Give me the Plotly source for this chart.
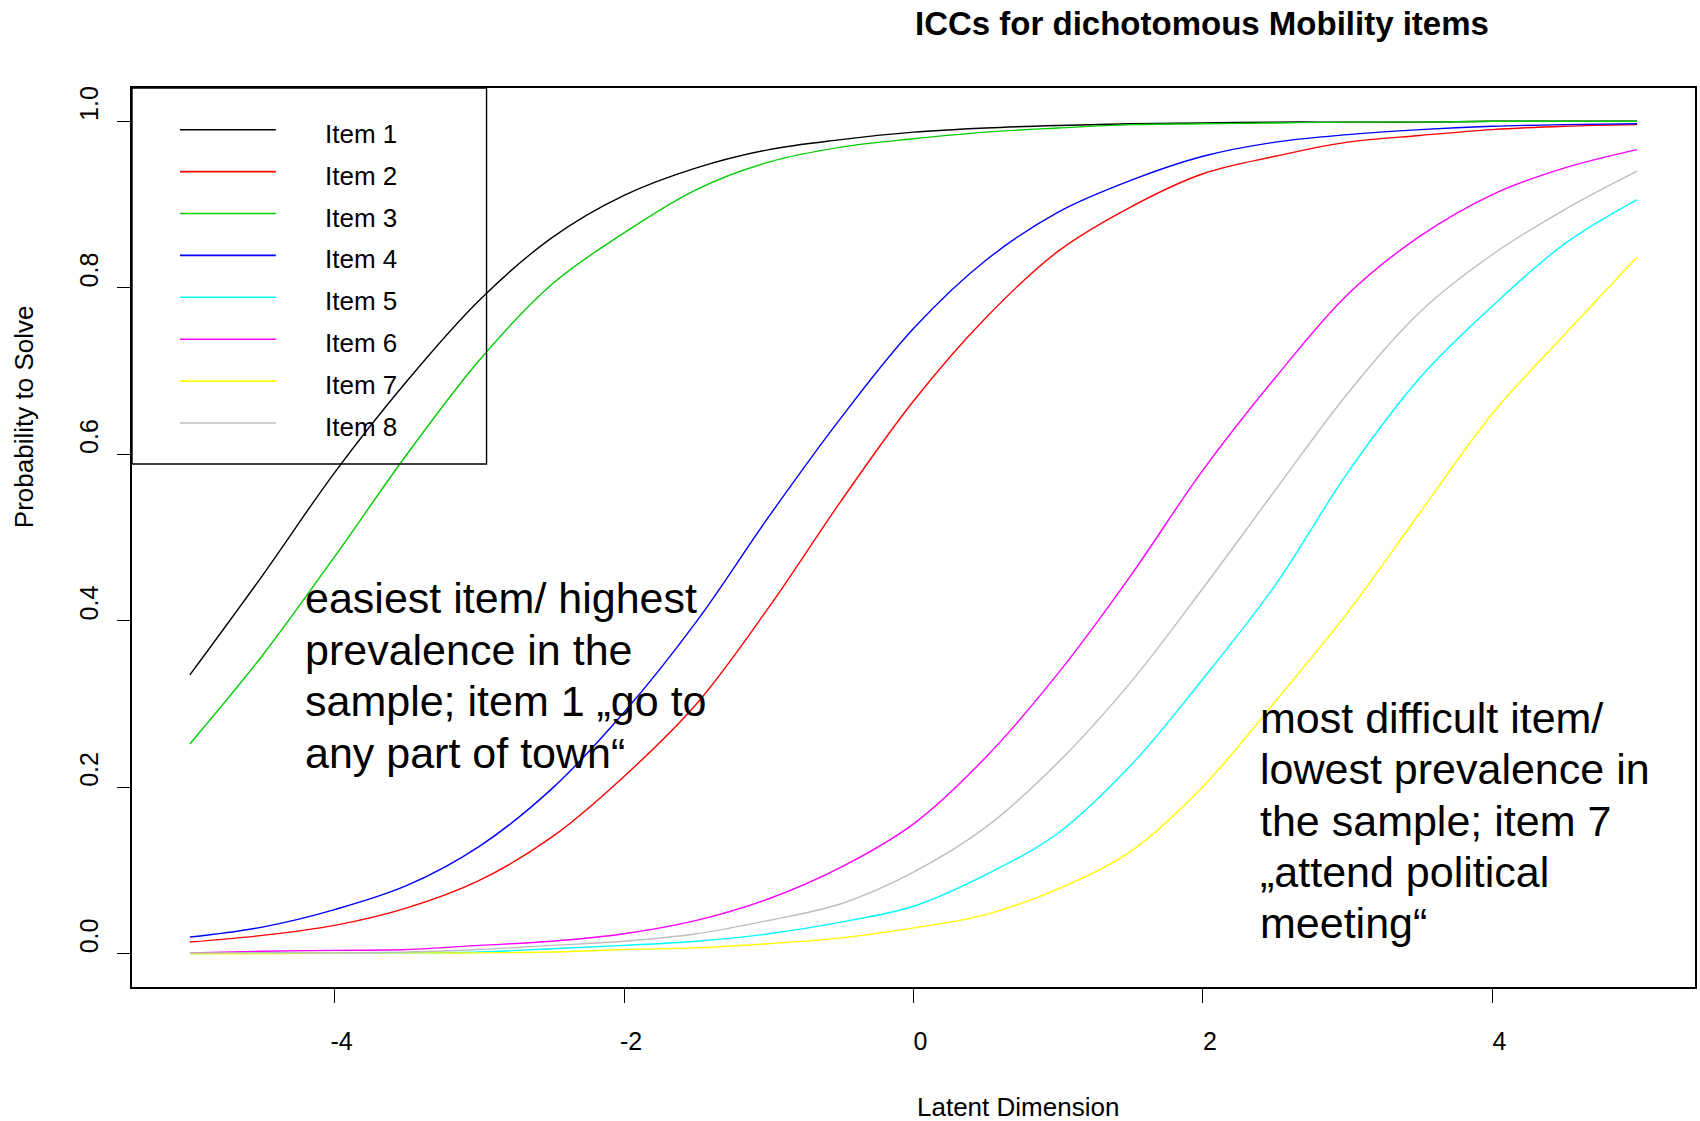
import plotly.graph_objects as go

# Latent trait grid and item characteristic curves (probability to solve)
theta = [-5.0, -4.5, -4.0, -3.5, -3.0, -2.5, -2.0, -1.5, -1.0, -0.5, 0.0,
         0.5, 1.0, 1.5, 2.0, 2.5, 3.0, 3.5, 4.0, 4.5, 5.0]

item1 = [0.335, 0.454, 0.578, 0.688, 0.785, 0.860, 0.911, 0.944, 0.966, 0.978, 0.987,
         0.992, 0.995, 0.997, 0.998, 0.999, 0.999, 0.999, 1.000, 1.000, 1.000]
item2 = [0.014, 0.022, 0.034, 0.055, 0.088, 0.140, 0.213, 0.300, 0.416, 0.544, 0.664,
         0.764, 0.844, 0.897, 0.937, 0.958, 0.975, 0.983, 0.990, 0.994, 0.996]
item3 = [0.252, 0.358, 0.477, 0.600, 0.713, 0.804, 0.866, 0.918, 0.951, 0.969, 0.979,
         0.987, 0.992, 0.996, 0.997, 0.998, 0.999, 0.999, 1.000, 1.000, 1.000]
item4 = [0.020, 0.032, 0.053, 0.082, 0.129, 0.198, 0.290, 0.399, 0.525, 0.644, 0.751,
         0.833, 0.891, 0.929, 0.958, 0.975, 0.984, 0.990, 0.994, 0.996, 0.997]
item5 = [0.000, 0.001, 0.001, 0.001, 0.002, 0.006, 0.010, 0.015, 0.024, 0.038, 0.057,
         0.095, 0.145, 0.226, 0.330, 0.443, 0.578, 0.692, 0.778, 0.853, 0.906]
item6 = [0.001, 0.003, 0.004, 0.005, 0.010, 0.015, 0.024, 0.040, 0.066, 0.104, 0.156,
         0.236, 0.337, 0.454, 0.581, 0.692, 0.792, 0.862, 0.912, 0.944, 0.966]
item7 = [0.000, 0.000, 0.001, 0.001, 0.001, 0.002, 0.005, 0.007, 0.012, 0.019, 0.031,
         0.047, 0.078, 0.123, 0.201, 0.303, 0.410, 0.530, 0.649, 0.744, 0.837]
item8 = [0.001, 0.001, 0.001, 0.002, 0.005, 0.010, 0.015, 0.024, 0.040, 0.060, 0.098,
         0.152, 0.230, 0.326, 0.439, 0.557, 0.673, 0.771, 0.840, 0.894, 0.940]

item_names = ["Item 1", "Item 2", "Item 3", "Item 4",
              "Item 5", "Item 6", "Item 7", "Item 8"]
item_colors = ["#000000", "#FF0000", "#00CD00", "#0000FF",
               "#00FFFF", "#FF00FF", "#FFFF00", "#BEBEBE"]

x_ticks = [-4, -2, 0, 2, 4]
x_tick_labels = ["-4", "-2", "0", "2", "4"]
y_ticks = [0.0, 0.2, 0.4, 0.6, 0.8, 1.0]
y_tick_labels = ["0.0", "0.2", "0.4", "0.6", "0.8", "1.0"]

title_text = "ICCs for dichotomous Mobility items"
x_title = "Latent Dimension"
y_title = "Probability to Solve"
note_easy = ["easiest item/ highest", "prevalence in the",
             "sample; item 1 \u201ego to", "any part of town\u201c"]
note_hard = ["most difficult item/", "lowest prevalence in",
             "the sample; item 7", "\u201eattend political", "meeting\u201c"]

FONT = "Liberation Sans, Arial, sans-serif"
W, H = 1700, 1121
ML, MR, MT, MB = 132, 3, 88, 134
PW, PH = W - ML - MR, H - MT - MB


def px_x(px):
    """Horizontal page pixel -> paper coordinate."""
    return (px - ML) / PW


def px_y(py):
    """Vertical page pixel -> paper coordinate."""
    return (H - MB - py) / PH


series = [item1, item2, item3, item4, item5, item6, item7, item8]

fig = go.Figure()
for name, color, values in zip(item_names, item_colors, series):
    fig.add_trace(go.Scatter(
        x=theta, y=values, name=name, mode="lines",
        line=dict(color=color, width=1.4, shape="spline", smoothing=1.0),
        showlegend=False, hoverinfo="skip",
    ))

shapes = []
annotations = []

# legend frame in the upper-left corner of the plotting region
shapes.append(dict(type="rect", xref="paper", yref="paper",
                   x0=0, x1=px_x(487), y0=px_y(464), y1=1,
                   line=dict(color="black", width=1.4), fillcolor="rgba(0,0,0,0)"))
for i, (name, color) in enumerate(zip(item_names, item_colors)):
    ly = 129.7 + 41.9 * i
    shapes.append(dict(type="line", xref="paper", yref="paper",
                       x0=px_x(180), x1=px_x(276), y0=px_y(ly), y1=px_y(ly),
                       line=dict(color=color, width=1.6)))
    annotations.append(dict(text=name, xref="paper", yref="paper",
                            x=px_x(323), y=px_y(ly + 4), xanchor="left", yanchor="middle",
                            showarrow=False, font=dict(family=FONT, size=26, color="black")))

# explanatory notes
for i, line in enumerate(note_easy):
    annotations.append(dict(text=line, xref="paper", yref="paper",
                            x=px_x(303), y=px_y(598 + 51.7 * i),
                            xanchor="left", yanchor="middle", showarrow=False,
                            font=dict(family=FONT, size=43, color="black")))
for i, line in enumerate(note_hard):
    annotations.append(dict(text=line, xref="paper", yref="paper",
                            x=px_x(1259), y=px_y(718 + 51.3 * i),
                            xanchor="left", yanchor="middle", showarrow=False,
                            font=dict(family=FONT, size=43, color="black")))

# title and axis titles
annotations.append(dict(text="<b>" + title_text + "</b>", xref="paper", yref="paper",
                        x=px_x(1203), y=px_y(24), xanchor="center", yanchor="middle",
                        showarrow=False, font=dict(family=FONT, size=33, color="black")))
annotations.append(dict(text=x_title, xref="paper", yref="paper",
                        x=px_x(1019), y=px_y(1107), xanchor="center", yanchor="middle",
                        showarrow=False, font=dict(family=FONT, size=26, color="black")))
annotations.append(dict(text=y_title, xref="paper", yref="paper",
                        x=px_x(24), y=px_y(417), xanchor="center", yanchor="middle",
                        textangle=-90, showarrow=False,
                        font=dict(family=FONT, size=26, color="black")))

fig.update_layout(
    width=W, height=H,
    margin=dict(l=ML, r=MR, t=MT, b=MB, pad=0),
    paper_bgcolor="white", plot_bgcolor="white",
    shapes=shapes, annotations=annotations,
    font=dict(family=FONT, color="black"),
)
fig.update_xaxes(
    range=[-5.4, 5.4], tickvals=x_ticks, ticktext=x_tick_labels,
    ticks="outside", ticklen=14, tickwidth=1.3, tickcolor="black",
    showline=True, linewidth=2, linecolor="black", mirror=True,
    showgrid=False, zeroline=False,
    tickfont=dict(family=FONT, size=25, color="black"),
    ticklabelstandoff=17, ticklabelshift=7,
)
fig.update_yaxes(
    range=[-0.04, 1.04], tickvals=y_ticks, ticktext=y_tick_labels,
    ticks="outside", ticklen=13, tickwidth=1.3, tickcolor="black",
    showline=True, linewidth=2, linecolor="black", mirror=True,
    showgrid=False, zeroline=False, tickangle=-90,
    tickfont=dict(family=FONT, size=25, color="black"),
    ticklabelstandoff=9, ticklabelshift=-14,
)

fig.write_html("out.html")
